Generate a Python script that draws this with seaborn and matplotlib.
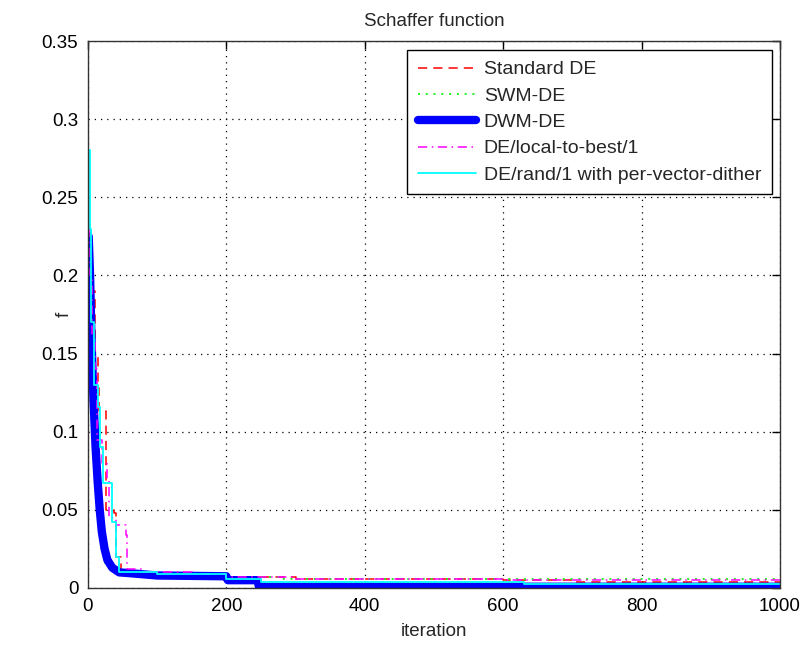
import numpy as np
import pandas as pd
import matplotlib
matplotlib.use("Agg")
import matplotlib.pyplot as plt
import seaborn as sns

# ---- data ----
std_iter = [1, 5, 10, 14, 16, 24, 26, 38, 40, 48, 60, 150, 200, 300, 600, 700, 1000]
std_f = [0.22, 0.19, 0.15, 0.128, 0.113, 0.113, 0.05, 0.048, 0.02, 0.01, 0.009, 0.008, 0.0068, 0.0058, 0.005, 0.004, 0.0038]

swm_iter = [1, 4, 7, 9, 13, 18, 25, 35, 50, 100, 200, 280, 1000]
swm_f = [0.2, 0.15, 0.11, 0.08, 0.05, 0.03, 0.016, 0.011, 0.009, 0.008, 0.007, 0.0057, 0.0056]

dwm_iter = [1, 3, 5, 8, 11, 14, 17, 20, 24, 28, 35, 45, 60, 100, 200, 202, 245, 247, 1000]
dwm_f = [0.225, 0.2, 0.16, 0.12, 0.09, 0.068, 0.05, 0.036, 0.025, 0.018, 0.013, 0.010, 0.0095, 0.008, 0.0075, 0.005, 0.005, 0.0008, 0.0008]

ltb_iter = [1, 3, 6, 10, 13, 20, 27, 30, 40, 55, 57, 80, 150, 200, 300, 600, 1000]
ltb_f = [0.23, 0.2, 0.16, 0.14, 0.095, 0.08, 0.069, 0.045, 0.04, 0.034, 0.012, 0.01, 0.009, 0.007, 0.006, 0.005, 0.0045]

pvd_iter = [1, 3, 5, 8, 14, 18, 22, 34, 38, 40, 45, 100, 200, 250, 630, 1000]
pvd_f = [0.28, 0.23, 0.17, 0.13, 0.116, 0.09, 0.067, 0.042, 0.042, 0.02, 0.01, 0.009, 0.006, 0.004, 0.0025, 0.0025]

labels = ["Standard DE", "SWM-DE", "DWM-DE", "DE/local-to-best/1",
          "DE/rand/1 with per-vector-dither"]
x_ticks = [0, 200, 400, 600, 800, 1000]
y_ticks = [0, 0.05, 0.1, 0.15, 0.2, 0.25, 0.3, 0.35]
y_ticklabels = ["0", "0.05", "0.1", "0.15", "0.2", "0.25", "0.3", "0.35"]

sns.set_style("white")
plt.rcParams["font.family"] = ["Liberation Sans", "DejaVu Sans"]
FS = 13.5

fig = plt.figure(figsize=(8.05, 6.48), dpi=100)
ax = fig.add_axes([0.1093, 0.0926, 0.8597, 0.8441])

series = [
    (std_iter, std_f, dict(color="red", linestyle=(0, (6, 4)), linewidth=1.1, drawstyle="steps-post")),
    (swm_iter, swm_f, dict(color="#22ee22", linestyle=(0, (1, 3)), linewidth=1.4, drawstyle="steps-post")),
    (dwm_iter, dwm_f, dict(color="blue", linestyle="-", linewidth=6)),
    (ltb_iter, ltb_f, dict(color="magenta", linestyle=(0, (6, 3, 1, 3)), linewidth=1.1, drawstyle="steps-post")),
    (pvd_iter, pvd_f, dict(color="cyan", linestyle="-", linewidth=1.3, drawstyle="steps-post")),
]
for (it, f, st), lab in zip(series, labels):
    df = pd.DataFrame({"iteration": it, "f": f})
    sns.lineplot(data=df, x="iteration", y="f", ax=ax, label=lab, **st)

ax.set_xlim(0, 1000)
ax.set_ylim(0, 0.35)
ax.set_xticks(x_ticks)
ax.set_yticks(y_ticks)
ax.set_yticklabels(y_ticklabels)
ax.tick_params(direction="in", top=True, right=True, labelsize=FS, length=6,
               width=1, colors="black", pad=7)
ax.grid(True, color="black", linestyle=(0, (1, 4)), linewidth=0.9)
for sp in ax.spines.values():
    sp.set_color("#333333")
    sp.set_linewidth(1.0)
ax.set_xlabel("iteration", fontsize=FS, labelpad=6)
ax.set_ylabel("f", fontsize=FS)
ax.yaxis.set_label_coords(-0.022, 0.5)
ax.set_title("Schaffer function", fontsize=FS, pad=11)

leg = ax.legend(loc="upper right", bbox_to_anchor=(0.9884, 0.9835), fontsize=14,
                handlelength=3.0, handletextpad=0.4, frameon=True, fancybox=False,
                framealpha=1, edgecolor="black", borderpad=0.55, labelspacing=0.45,
                borderaxespad=0)
leg.get_frame().set_linewidth(1.0)

fig.savefig("out.png", dpi=100, facecolor="white")
